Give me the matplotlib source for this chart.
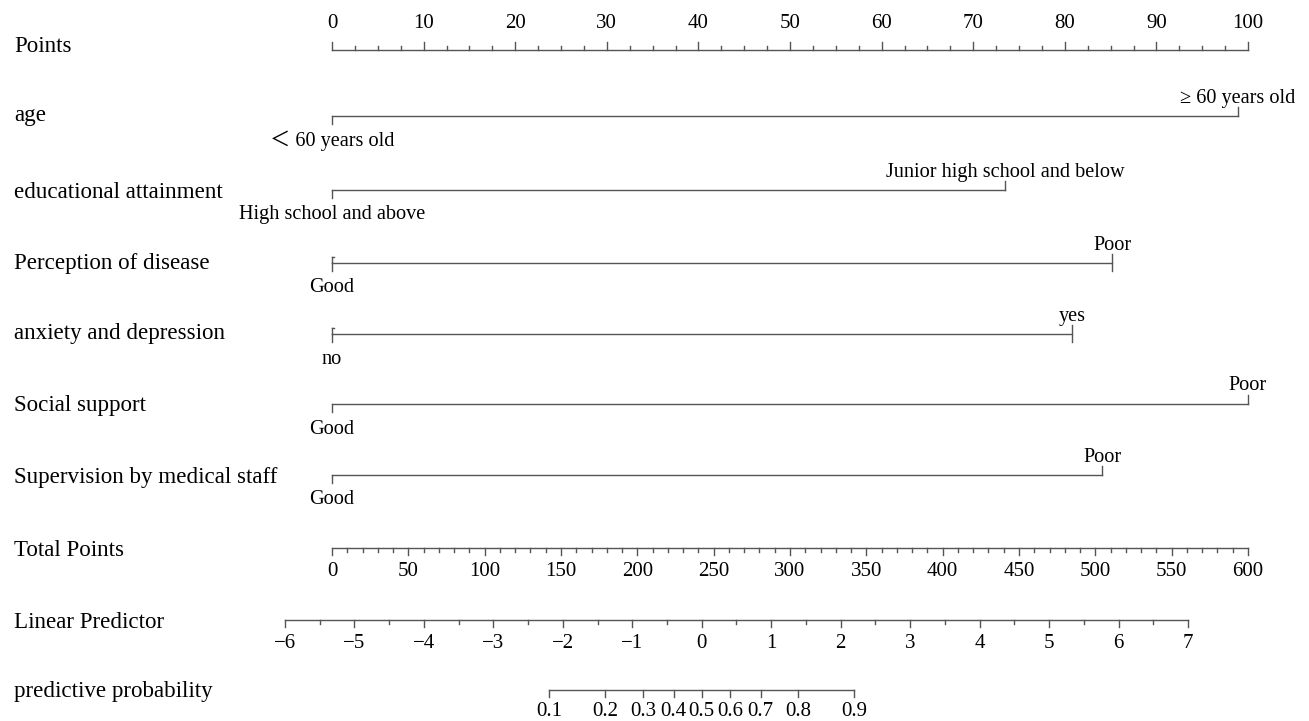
import numpy as np
import matplotlib
matplotlib.use("Agg")
import matplotlib.pyplot as plt

plt.rcParams['font.family'] = ['Liberation Serif', 'Noto Sans CJK SC', 'DejaVu Sans']

# Data
row_names = ["Points", "age", "educational attainment", "Perception of disease",
             "anxiety and depression", "Social support", "Supervision by medical staff",
             "Total Points", "Linear Predictor", "predictive probability"]
low_labels = ["＜ 60 years old", "High school and above", "Good", "no", "Good", "Good"]
high_labels = ["≥ 60 years old", "Junior high school and below", "Poor", "yes", "Poor", "Poor"]
high_points = [98.9, 73.5, 85.2, 80.8, 100.0, 84.1]

total_ticks = np.arange(0, 601, 50)
lp_ticks = np.arange(-6, 8, 1)
lp_at_0 = -5.323     # linear predictor at 0 total points
lp_at_600 = 7.864    # linear predictor at 600 total points
prob_ticks = [0.1, 0.2, 0.3, 0.4, 0.5, 0.6, 0.7, 0.8, 0.9]

# layout (pixel rows)
row_y = [50, 116, 190, 263, 334, 404, 475, 548, 620, 690]
label_y = [46, 115, 192, 263, 334, 406, 477, 550, 622, 692]
px_per_pt = 9.16
x0_px = 332

fig = plt.figure(figsize=(13.09, 7.21), dpi=100)
ax = fig.add_axes([0, 0, 1, 1])
ax.set_xlim(-x0_px / px_per_pt, (1309 - x0_px) / px_per_pt)
ax.set_ylim(721, 0)
ax.axis('off')

lc = '#555555'
lw = 1.0
fs_name = 16.6
fs_tick = 15
fs_lvl = 14.6

for name, y in zip(row_names, label_y):
    ax.text(-x0_px / px_per_pt + 14 / px_per_pt, y, name, fontsize=fs_name,
            ha='left', va='center')

# Points axis
y = row_y[0]
ax.plot([0, 100], [y, y], color=lc, lw=lw)
for p in np.arange(0, 100.01, 2.5):
    major = abs(p % 10) < 1e-9
    ax.plot([p, p], [y, y - (8 if major else 4)], color=lc, lw=lw)
    if major:
        ax.text(p, y - 26, f"{int(p)}", fontsize=fs_tick, ha='center', va='center')

# variable rows
for i in range(6):
    y = row_y[i + 1]
    hp = high_points[i]
    ax.plot([0, hp], [y, y], color=lc, lw=lw)
    ax.plot([0, 0], [y, y + 8], color=lc, lw=lw)
    if i in (2, 3):
        ax.plot([0, 0.25], [y - 6, y - 6], color=lc, lw=lw)
        ax.plot([0, 0], [y - 6, y], color=lc, lw=lw)
        ax.plot([hp, hp], [y - 9, y + 8], color=lc, lw=lw)
    else:
        ax.plot([hp, hp], [y - 9, y], color=lc, lw=lw)
    ax.text(hp, y - 18, high_labels[i], fontsize=fs_lvl, ha='center', va='center')
    ax.text(0, y + 25, low_labels[i], fontsize=fs_lvl, ha='center', va='center')

# Total points
y = row_y[7]
ax.plot([0, 100], [y, y], color=lc, lw=lw)
for t in np.arange(0, 601, 10):
    major = t % 50 == 0
    ax.plot([t / 6, t / 6], [y, y + (7 if major else 4)], color=lc, lw=lw)
for t in total_ticks:
    ax.text(t / 6, y + 23, f"{t}", fontsize=fs_tick, ha='center', va='center')

# Linear predictor
slope = (lp_at_600 - lp_at_0) / 600


def lp_to_x(lp):
    return (lp - lp_at_0) / slope / 6


y = row_y[8]
ax.plot([lp_to_x(lp_ticks[0]), lp_to_x(lp_ticks[-1])], [y, y], color=lc, lw=lw)
for v in np.arange(lp_ticks[0], lp_ticks[-1] + 0.01, 0.5):
    major = abs(v - round(v)) < 1e-9
    ax.plot([lp_to_x(v)] * 2, [y, y + (7 if major else 4)], color=lc, lw=lw)
for v in lp_ticks:
    ax.text(lp_to_x(v), y + 23, f"{v}".replace('-', '\u2212'), fontsize=fs_tick,
            ha='center', va='center')

# probability
y = row_y[9]
px = [lp_to_x(np.log(p / (1 - p))) for p in prob_ticks]
ax.plot([px[0], px[-1]], [y, y], color=lc, lw=lw)
for p, xx in zip(prob_ticks, px):
    ax.plot([xx, xx], [y, y + 7], color=lc, lw=lw)
    ax.text(xx, y + 22, f"{p:g}", fontsize=fs_tick, ha='center', va='center')

fig.savefig("out.png", dpi=100)
